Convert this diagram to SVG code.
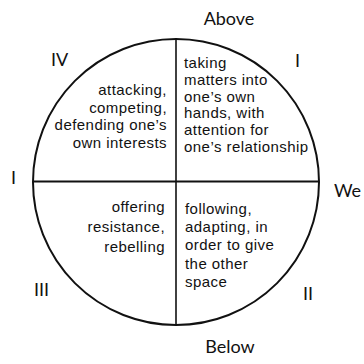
<svg xmlns="http://www.w3.org/2000/svg" width="364" height="364" viewBox="0 0 364 364">
<style>
.t{font-family:"Liberation Sans",Arial,sans-serif;font-size:15px;letter-spacing:0.45px;fill:#111}
.r{text-anchor:end}
.l{font-family:Lato,"Open Sans",sans-serif;font-size:18px;fill:#111}
</style>
<rect width="364" height="364" fill="#fff"/>
<g id="axes" stroke="#111" fill="none">
<circle cx="176" cy="182" r="143" stroke-width="2"/>
<line x1="176" y1="39" x2="176" y2="325" stroke-width="1.6"/>
<line x1="33" y1="181.5" x2="319" y2="181.5" stroke-width="1.8"/>
</g>
<g id="labels">
<text class="l" x="229" y="25" text-anchor="middle">Above</text>
<text class="l" x="230" y="353" text-anchor="middle">Below</text>
<text class="l" x="334" y="197">We</text>
<text class="l" x="11" y="184">I</text>
<text class="l" x="295" y="67">I</text>
<text class="l" x="51" y="66">IV</text>
<text class="l" x="34" y="296">III</text>
<text class="l" x="303" y="300">II</text>
</g>
<g id="q4">
<text class="t r" x="167" y="95">attacking,</text>
<text class="t r" x="167" y="112.7">competing,</text>
<text class="t r" x="167" y="130.4">defending one’s</text>
<text class="t r" x="167" y="148">own interests</text>
</g>
<g id="q1">
<text class="t" x="184" y="68">taking</text>
<text class="t" x="184" y="84.8">matters into</text>
<text class="t" x="184" y="101.6">one’s own</text>
<text class="t" x="184" y="118.4">hands, with</text>
<text class="t" x="184" y="135.2">attention for</text>
<text class="t" x="184" y="152">one’s relationship</text>
</g>
<g id="q3">
<text class="t r" x="165" y="212">offering</text>
<text class="t r" x="165" y="232">resistance,</text>
<text class="t r" x="165" y="252">rebelling</text>
</g>
<g id="q2">
<text class="t" x="185" y="214">following,</text>
<text class="t" x="185" y="232">adapting, in</text>
<text class="t" x="185" y="250">order to give</text>
<text class="t" x="185" y="269">the other</text>
<text class="t" x="185" y="287">space</text>
</g>
</svg>
